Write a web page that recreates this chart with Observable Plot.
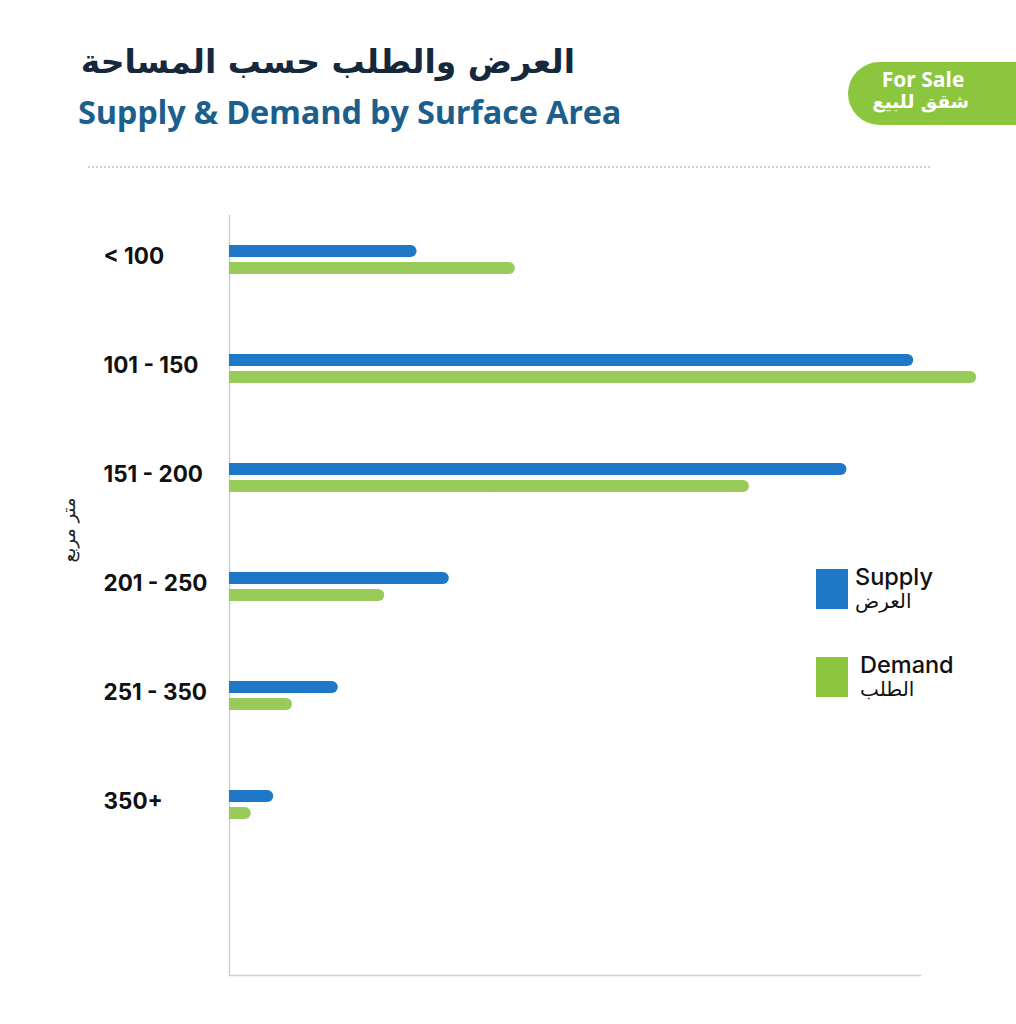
<!DOCTYPE html>
<html>
<head>
<meta charset="utf-8">
<script src="https://cdn.jsdelivr.net/npm/d3@7"></script>
<script src="https://cdn.jsdelivr.net/npm/@observablehq/plot@0.6"></script>
<style>
  html, body { margin: 0; padding: 0; background: #fff; }
  #wrap { position: relative; width: 1016px; height: 1024px; overflow: hidden; background: #fff; }
  #chart { position: absolute; left: 0; top: 0; }
  .abs { position: absolute; white-space: nowrap; }
  #titleAr { left: 60px; top: 42px; width: 515px; text-align: right; direction: rtl; font-family: "DejaVu Sans", sans-serif; font-weight: 700; font-size: 33px; color: #16283b; }
  #titleEn { left: 78px; top: 89px; font-family: "Open Sans", sans-serif; font-weight: 700; font-size: 32.5px; color: #1d5f8c; letter-spacing: -0.2px; }
  #badge { left: 848px; top: 62px; width: 200px; height: 63px; background: #8cc63f; border-radius: 32px; }
  #badgeEn { left: 848px; top: 65px; width: 150px; text-align: center; font-family: "Open Sans", sans-serif; font-weight: 700; font-size: 21px; color: #fff; }
  #badgeAr { left: 848px; top: 91px; width: 121px; text-align: right; direction: rtl; font-family: "DejaVu Sans", sans-serif; font-weight: 700; font-size: 18.5px; color: #fff; }
  #sep { left: 88px; top: 166px; width: 842px; height: 0; border-top: 2px dotted #d4d4d4; }
  .sw { position: absolute; width: 32px; height: 40px; }
  .lgEn { font-family: "Inter", sans-serif; font-weight: 500; font-size: 23.5px; color: #111; }
  .lgAr { font-family: "DejaVu Sans", sans-serif; font-size: 20px; color: #111; direction: rtl; }
  #yl { left: 68px; top: 530px; transform: translate(-50%, -50%) rotate(-90deg); font-family: "DejaVu Sans", sans-serif; font-size: 18px; color: #222; direction: rtl; }
</style>
</head>
<body>
<div id="wrap">
  <div id="chart"></div>
  <div class="abs" id="titleAr">العرض والطلب حسب المساحة</div>
  <div class="abs" id="titleEn">Supply &amp; Demand by Surface Area</div>
  <div class="abs" id="badge"></div>
  <div class="abs" id="badgeEn">For Sale</div>
  <div class="abs" id="badgeAr">شقق للبيع</div>
  <div class="abs" id="sep"></div>
  <div class="abs" id="yl">متر مربع</div>
  <div id="legend"></div>
</div>
<script>
const categories = ["< 100", "101 - 150", "151 - 200", "201 - 250", "251 - 350", "350+"];
const supply = [25, 91.2, 82.3, 29.3, 14.5, 5.9];
const demand = [38.1, 99.6, 69.3, 20.7, 8.4, 2.9];
const seriesNames = [["Supply", "العرض"], ["Demand", "الطلب"]];
const colors = ["#1f77c8", "#98cb5a"];
const legendColors = ["#1f77c8", "#8cc63f"];

const supplyData = categories.map((c, i) => ({cat: c, v: supply[i]}));
const demandData = categories.map((c, i) => ({cat: c, v: demand[i]}));

const chart = Plot.plot({
  width: 1016,
  height: 1024,
  marginLeft: 229,
  marginRight: 96,
  marginTop: 215,
  marginBottom: 49,
  style: {background: "transparent", overflow: "visible"},
  x: {domain: [0, 92.1], axis: null},
  y: {domain: categories, range: [202.7, 860.3], paddingInner: 0.735, paddingOuter: 0.3675, axis: null},
  marks: [
    Plot.frame({anchor: "bottom", stroke: "#cfcfcf", strokeWidth: 1.5}),
    Plot.ruleX([0], {stroke: "#cfcfcf", strokeWidth: 1.5}),
    Plot.barX(supplyData, {x1: 0, x2: "v", y: "cat", fill: colors[0], rx: 6, insetBottom: 17}),
    Plot.barX(supplyData, {x1: 0, x2: d => d.v / 2, y: "cat", fill: colors[0], insetBottom: 17}),
    Plot.barX(demandData, {x1: 0, x2: "v", y: "cat", fill: colors[1], rx: 6, insetTop: 17}),
    Plot.barX(demandData, {x1: 0, x2: d => d.v / 2, y: "cat", fill: colors[1], insetTop: 17}),
    Plot.text(categories, {y: d => d, frameAnchor: "left", textAnchor: "start", dx: -126, dy: -3,
      fontSize: 22.5, fontWeight: 700, fill: "#111", fontFamily: "Inter, sans-serif",
      style: "letter-spacing: 0.6px"})
  ]
});
document.getElementById("chart").appendChild(chart);

// legend
const lg = document.getElementById("legend");
const lgTops = [569, 657];
const lgTextX = [855, 860];
seriesNames.forEach((n, i) => {
  const sw = document.createElement("div");
  sw.className = "sw";
  sw.style.left = "816px";
  sw.style.top = lgTops[i] + "px";
  sw.style.background = legendColors[i];
  lg.appendChild(sw);
  const en = document.createElement("div");
  en.className = "abs lgEn";
  en.style.left = lgTextX[i] + "px";
  en.style.top = (lgTops[i] - 7) + "px";
  en.textContent = n[0];
  lg.appendChild(en);
  const ar = document.createElement("div");
  ar.className = "abs lgAr";
  ar.style.left = lgTextX[i] + "px";
  ar.style.top = (lgTops[i] + 20) + "px";
  ar.textContent = n[1];
  lg.appendChild(ar);
});
</script>
</body>
</html>
